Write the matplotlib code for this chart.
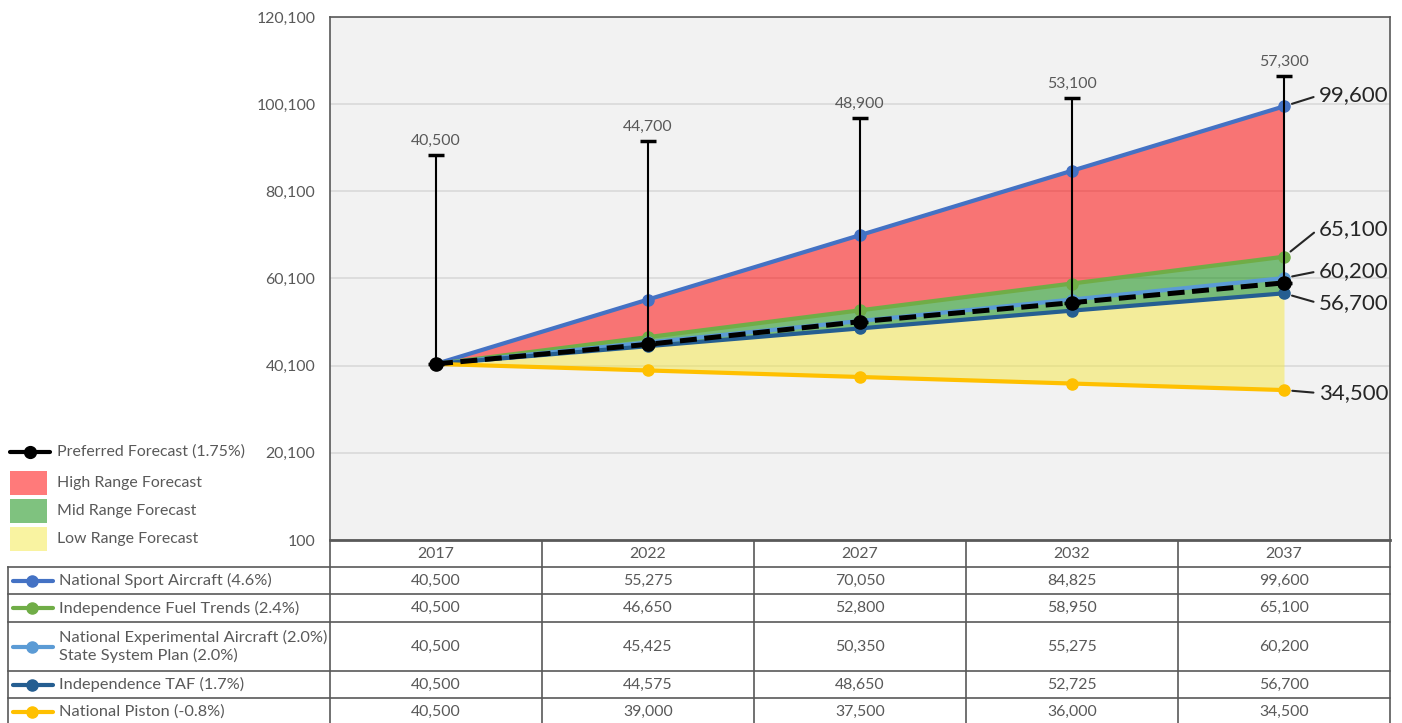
import matplotlib
matplotlib.use("Agg")
import matplotlib.pyplot as plt
from matplotlib.patches import Rectangle
import numpy as np

plt.rcParams['font.family'] = ['Lato', 'DejaVu Sans']

# ---------------- data ----------------
years = ['2017', '2022', '2027', '2032', '2037']
y_ticks = [100, 20100, 40100, 60100, 80100, 100100, 120100]

series_names = ['National Sport Aircraft (4.6%)',
                'Independence Fuel Trends (2.4%)',
                'National Experimental Aircraft (2.0%)\nState System Plan (2.0%)',
                'Independence TAF (1.7%)',
                'National Piston (-0.8%)']
sport = [40500, 55275, 70050, 84825, 99600]
fuel_trends = [40500, 46650, 52800, 58950, 65100]
experimental = [40500, 45425, 50350, 55275, 60200]
taf = [40500, 44575, 48650, 52725, 56700]
piston = [40500, 39000, 37500, 36000, 34500]

preferred_name = 'Preferred Forecast (1.75%)'
preferred_points = [40500, 45000, 50200, 54550, 59100]
preferred_labels = [40500, 44700, 48900, 53100, 57300]
preferred_error = [47900, 46600, 46700, 47000, 47450]

range_names = ['High Range Forecast', 'Mid Range Forecast', 'Low Range Forecast']

# ---------------- style ----------------
c_sport = '#4472C4'
c_fuel = '#70AD47'
c_exp = '#5B9BD5'
c_taf = '#255E91'
c_piston = '#FFC000'
fill_high = ('#FF0000', 0.52)
fill_mid = ('#008600', 0.5)
fill_low = ('#F4E844', 0.5)
gray_txt = '#595959'
dark_txt = '#262626'
border = '#595959'
fs = 11.4

W, H = 1402, 723
fig = plt.figure(figsize=(W / 100, H / 100), dpi=100)
fig.patch.set_facecolor('white')

L, R, T, B = 330, 1390, 17, 540
ax = fig.add_axes([L / W, 1 - B / H, (R - L) / W, (B - T) / H])
ax.set_facecolor('#F2F2F2')
x = np.arange(len(years))
ax.set_xlim(-0.5, len(years) - 0.5)
ax.set_ylim(y_ticks[0], y_ticks[-1])
ax.set_yticks(y_ticks)
ax.set_yticklabels([f'{v:,}' for v in y_ticks])
ax.set_xticks([])
ax.tick_params(axis='y', length=0, pad=10.5, labelsize=fs, labelcolor=gray_txt)
ax.yaxis.grid(True, color='#D9D9D9', lw=1.2)
ax.set_axisbelow(True)
for s in ['left', 'top', 'right']:
    ax.spines[s].set_color(border)
    ax.spines[s].set_linewidth(1.2)
ax.spines['bottom'].set_color(border)
ax.spines['bottom'].set_linewidth(2)

# range fills
ax.fill_between(x, fuel_trends, sport, color=fill_high[0], alpha=fill_high[1], lw=0, zorder=1)
ax.fill_between(x, taf, fuel_trends, color=fill_mid[0], alpha=fill_mid[1], lw=0, zorder=1)
ax.fill_between(x, piston, taf, color=fill_low[0], alpha=fill_low[1], lw=0, zorder=1)

# series lines
series = [(sport, c_sport), (fuel_trends, c_fuel), (experimental, c_exp), (taf, c_taf), (piston, c_piston)]
for vals, col in series:
    ax.plot(x, vals, color=col, lw=3, marker='o', ms=8, zorder=3, solid_capstyle='round')

# preferred forecast with error bars
ax.errorbar(x, preferred_points, yerr=[np.zeros(len(x)), preferred_error],
            fmt='none', ecolor='black', elinewidth=1.5, capsize=6, capthick=2.5, zorder=4)
ax.plot(x, preferred_points, color='black', lw=3.6, ls=(0, (3.4, 1.5)), marker='o', ms=9.5,
        zorder=5, dash_capstyle='butt')
for xi, p, e, lab in zip(x, preferred_points, preferred_error, preferred_labels):
    ax.annotate(f'{lab:,}', (xi, p + e), xytext=(0, 14), textcoords='offset pixels',
                ha='center', va='center', fontsize=fs, color=gray_txt, zorder=6)

# end labels
end_offsets = [(35, 11), (35, 28), (35, 7), (35, -10), (35, -3)]
for (vals, col), off in zip(series, end_offsets):
    ax.annotate(f'{vals[-1]:,}', (x[-1], vals[-1]), xytext=off, textcoords='offset pixels',
                ha='left', va='center', fontsize=16, color=dark_txt, annotation_clip=False,
                arrowprops=dict(arrowstyle='-', color=dark_txt, lw=1.5, shrinkA=2, shrinkB=6,
                                relpos=(0, 0.5)))

# ---------------- overlay for legend and table ----------------
ov = fig.add_axes([0, 0, 1, 1], zorder=-1)
ov.set_xlim(0, W)
ov.set_ylim(H, 0)
ov.axis('off')

# legend
ov.plot([10, 50], [452, 452], color='black', lw=3, solid_capstyle='round')
ov.plot([30], [452], 'o', color='black', ms=8.5)
ov.text(57, 452, preferred_name, ha='left', va='center', fontsize=fs, color=gray_txt)
legend_fills = [fill_high, fill_mid, fill_low]
for i, (name, (fc, a)) in enumerate(zip(range_names, legend_fills)):
    yc = 483 + i * 28
    ov.add_patch(Rectangle((10, yc - 12), 37, 24, facecolor=fc, alpha=a, lw=0))
    ov.text(57, yc, name, ha='left', va='center', fontsize=fs, color=gray_txt)

# table
col_edges = [L + i * (R - L) / len(years) for i in range(len(years) + 1)]
row_edges = [540, 567, 594, 622, 671, 698, 725]
lc = border
lw = 1.2
for i, yr in enumerate(years):
    ov.text((col_edges[i] + col_edges[i + 1]) / 2, (row_edges[0] + row_edges[1]) / 2, yr,
            ha='center', va='center', fontsize=fs, color=gray_txt)
for xe in col_edges:
    ov.plot([xe, xe], [row_edges[0], H], color=lc, lw=lw)
ov.plot([8, 8], [row_edges[1], H], color=lc, lw=lw)
for ye in row_edges[1:-1]:
    ov.plot([8, R], [ye, ye], color=lc, lw=lw)

for r, ((vals, col), name) in enumerate(zip(series, series_names)):
    yc = (row_edges[r + 1] + row_edges[r + 2]) / 2
    ov.plot([13, 53], [yc, yc], color=col, lw=3, solid_capstyle='round')
    ov.plot([32], [yc], 'o', color=col, ms=8)
    ov.text(59, yc, name, ha='left', va='center', fontsize=11.8, color=gray_txt, linespacing=1.3)
    for i, v in enumerate(vals):
        ov.text((col_edges[i] + col_edges[i + 1]) / 2, yc, f'{v:,}', ha='center', va='center',
                fontsize=fs, color=gray_txt)

fig.savefig('out.png', dpi=100)
